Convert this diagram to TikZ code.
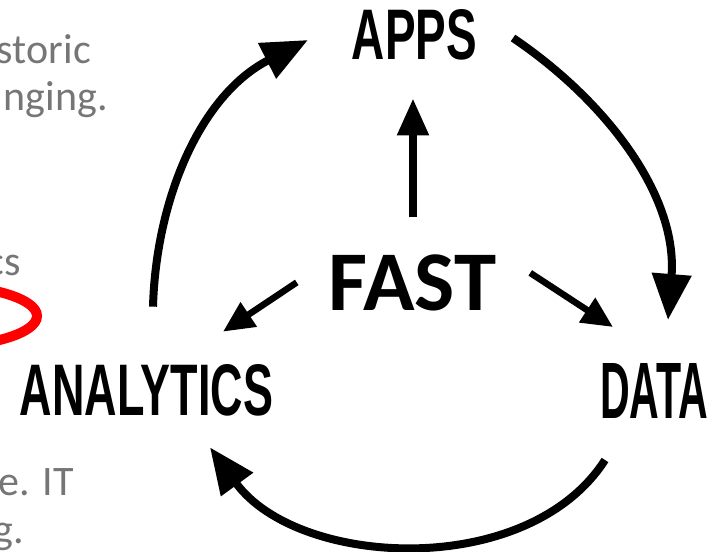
\documentclass[tikz,border=0pt]{standalone}
\usepackage{fontspec}
\setmainfont{Carlito}
\newfontfamily\labfont{Liberation Sans}
\usetikzlibrary{arrows.meta,calc}
\definecolor{txtgray}{HTML}{767676}
\definecolor{markred}{HTML}{FF0000}
\newcommand{\biglabel}[3]{\resizebox{#1}{#2}{\labfont\bfseries #3}}
\tikzset{
  bodytext/.style={font=\fontsize{42}{50}\selectfont, text=txtgray, inner sep=0pt, anchor=base east},
  cyclelabel/.style={inner sep=0pt, outer sep=0pt, anchor=center},
  arcarrow/.style={draw=black, line width=8pt, -{Triangle[length=46pt,width=38pt]}},
  uparrow/.style={draw=black, line width=8pt, -{Triangle[length=37pt,width=30pt]}},
  diagarrow/.style={draw=black, line width=6.5pt, -{Triangle[length=31pt,width=28pt]}},
  redmark/.style={draw=markred, line width=10pt}
}
\begin{document}
\begin{tikzpicture}[x=1pt,y=-1pt]
\useasboundingbox (0,0) rectangle (724,552);
\fill[white] (0,0) rectangle (724,552);

% background slide text (cut off at the left)
\node[bodytext] (t1) at (91,63) {storic};
\node[bodytext] (t2) at (108,110) {nging.};
\node[bodytext] (t3) at (21,275) {cs};
\node[bodytext] (t4) at (74,495) {e. IT};
\node[bodytext] (t5) at (24,543) {g.};

% red marker ellipse
\draw[redmark] (-65,316) ellipse [x radius=102, y radius=31];

% labels
\node[cyclelabel] (apps) at (414.5,35) {\biglabel{125pt}{50pt}{APPS}};
\node[cyclelabel] (analytics) at (146.5,390.5) {\biglabel{253pt}{51pt}{ANALYTICS}};
\node[cyclelabel] (data) at (654,390.5) {\biglabel{108pt}{55pt}{DATA}};
\node[inner sep=0pt, anchor=base, font=\fontsize{85}{90}\selectfont\bfseries] (fast) at (412.5,310) {FAST};

% centre arrows
\draw[uparrow] ($(fast.north)+(0.5,-37)$) -- ($(apps.south)+(-1.5,38)$);
\draw[diagarrow] ($(fast.west)+(-32,0)$) -- ($(analytics.north east)+(-50,-33)$);
\draw[diagarrow] ($(fast.east)+(34,-9.5)$) -- ($(data.north west)+(13,-36)$);

% cycle arcs
\draw[arcarrow] ($(analytics.north)+(6.5,-58)$) .. controls (156,200) and (200,95) .. ($(apps.west)+(-44,5)$);
\draw[arcarrow] ($(apps.east)+(36,3)$) .. controls (605,100) and (678,195) .. ($(data.north)+(14,-43)$);
\draw[arcarrow] ($(data.south)+(-49,42)$) .. controls (528,580) and (298,568) .. ($(analytics.south)+(63.5,31)$);
\end{tikzpicture}
\end{document}
